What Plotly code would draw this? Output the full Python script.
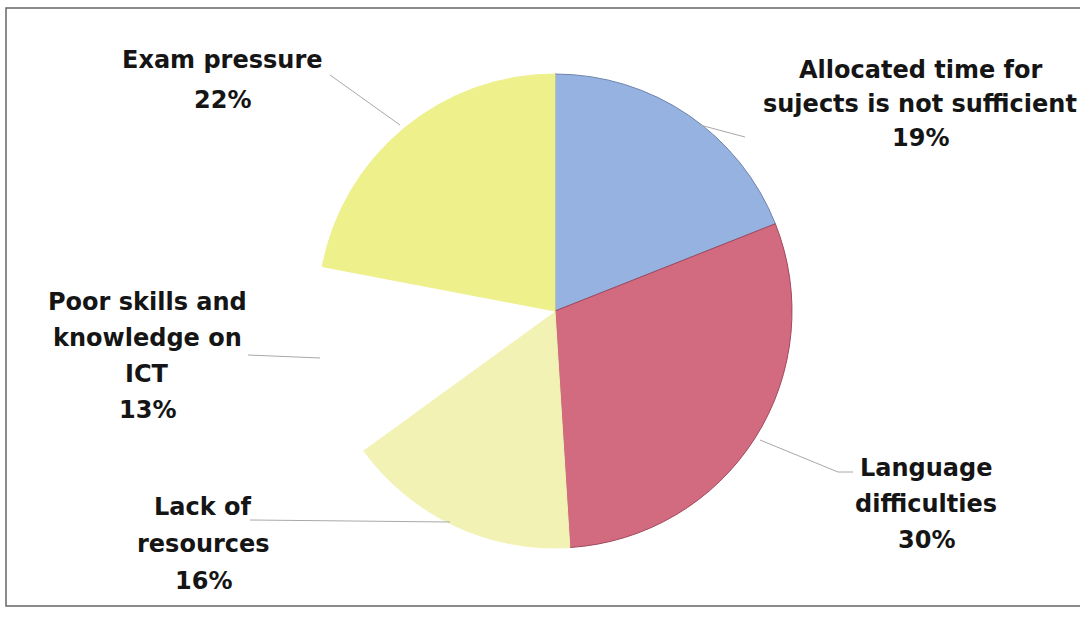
import plotly.graph_objects as go

labels = ["Allocated time for<br>sujects is not sufficient", "Language<br>difficulties",
          "Lack of<br>resources", "Poor skills and<br>knowledge on<br>ICT", "Exam pressure"]
values = [19, 30, 16, 13, 22]
colors = ["#96b2e0", "#d26a80", "#f3f2b5", "#ffffff", "#eef08c"]
edge_colors = ["#6f84ad", "#a04a5c", "#f3f2b5", "#ffffff", "#eef08c"]

W, H = 1080, 617
# label block: centre x and first-line centre y (pixels), line step
label_px = [(920, 70), (926, 468), (203, 507), (147, 302), (222, 60)]
line_steps = [34, 36, 37, 36, 40]
leaders = [[(700, 125), (745, 137)], [(760, 440), (838, 472), (853, 472)],
           [(250, 520), (450, 522)], [(248, 355), (320, 358)], [(330, 75), (400, 125)]]

fig = go.Figure(go.Pie(
    labels=labels, values=values, sort=False, direction="clockwise", rotation=0,
    marker=dict(colors=colors, line=dict(color=edge_colors, width=1)),
    textinfo="none", hoverinfo="none", showlegend=False,
    domain=dict(x=[(555 - 237) / W, (555 + 237) / W], y=[1 - (311 + 237) / H, 1 - (311 - 237) / H]),
))

FONT = "DejaVu Sans"
for lab, v, (x, y0), step in zip(labels, values, label_px, line_steps):
    lines = lab.split("<br>") + [f"{v}%"]
    for i, ln in enumerate(lines):
        fig.add_annotation(x=x / W, y=1 - (y0 + i * step) / H, xref="paper", yref="paper",
                           showarrow=False, xanchor="center", yanchor="middle",
                           text=f"<b>{ln}</b>", align="center",
                           font=dict(family=FONT, size=24, color="#151515"))

for pts in leaders:
    for (x0, y0), (x1, y1) in zip(pts[:-1], pts[1:]):
        fig.add_shape(type="line", xref="paper", yref="paper",
                      x0=x0 / W, y0=1 - y0 / H, x1=x1 / W, y1=1 - y1 / H,
                      line=dict(color="#a8a8a8", width=1))

fig.add_shape(type="rect", xref="paper", yref="paper", x0=6 / W, y0=1 - 606 / H, x1=1.01, y1=1 - 8 / H,
              line=dict(color="#666666", width=1.5))

fig.update_layout(width=W, height=H, margin=dict(l=0, r=0, t=0, b=0),
                  paper_bgcolor="white", plot_bgcolor="white", font=dict(family=FONT))
fig.write_html("out.html")
